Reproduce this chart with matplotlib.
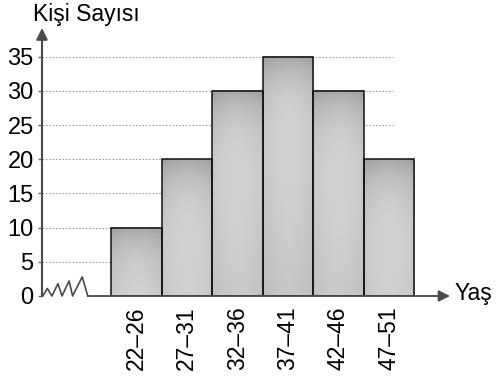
import numpy as np
import matplotlib.pyplot as plt

plt.rcParams['font.family'] = ['Liberation Sans', 'DejaVu Sans']

# Veriler
yas_gruplari = ['22–26', '27–31', '32–36', '37–41', '42–46', '47–51']
kisi_sayisi = [10, 20, 30, 35, 30, 20]
y_ticks = [0, 5, 10, 15, 20, 25, 30, 35]
# eksen kirilma isareti (zigzag), eksen birimlerinde
zig_x = [-1.35, -1.26, -1.17, -1.05, -0.97, -0.83, -0.76, -0.57, -0.46]
zig_y = [0, 1.1, 0, 1.8, 0, 2.2, 0, 2.8, 0]

fig = plt.figure(figsize=(4.97, 3.81), dpi=100)
W, H = 497, 381
ax = fig.add_axes([42 / W, (H - 296) / H, (450 - 42) / W, (296 - 28) / H])
x_min, x_max = (42 - 111) / 50.5, (450 - 111) / 50.5
for s in ax.spines.values():
    s.set_visible(False)

# kesikli yatay cizgiler
grid_end = (393 - 111) / 50.5
for v in y_ticks[1:]:
    ax.plot([x_min, grid_end], [v, v], color='#a0a0a0', lw=0.8,
            ls=(0, (1.5, 1.5)), zorder=1)

# sutunlar: gri gradyan dolgu (ustte koyu, ortada acik)
xx = np.linspace(-1, 1, 40)
yy = np.linspace(0, 1, 80)
X, Y = np.meshgrid(xx, yy)
for i, h in enumerate(kisi_sayisi):
    t = (1 - Y) * h / 35.0  # ustten uzaklik
    grad = 0.66 + 0.2 * (1 - np.exp(-t / 0.12)) - 0.08 * t - 0.04 * X ** 2
    ax.imshow(grad, extent=(i, i + 1, 0, h), origin='lower', cmap='gray',
              vmin=0, vmax=1, aspect='auto', zorder=2, interpolation='bilinear')
ax.bar(np.arange(len(kisi_sayisi)) + 0.5, kisi_sayisi, width=1.0, fill=False,
       edgecolor='#111111', linewidth=1.1, zorder=3)

ax.set_xlim(x_min, x_max)
ax.set_ylim(0, 39.2)

# eksenler
ax.annotate('', xy=(x_min, 39.2), xytext=(x_min, 0),
            arrowprops=dict(arrowstyle='-|>', mutation_scale=17, color='#4a4a4a',
                            lw=1.5, shrinkA=0, shrinkB=0), zorder=4)
ax.plot(zig_x, zig_y, color='#4a4a4a', lw=1.2, zorder=4, clip_on=False)
ax.annotate('', xy=(x_max, 0), xytext=(zig_x[-1], 0),
            arrowprops=dict(arrowstyle='-|>', mutation_scale=17, color='#4a4a4a',
                            lw=1.3, shrinkA=0, shrinkB=0), zorder=4)

ax.set_yticks(y_ticks)
ax.set_yticklabels([str(v) for v in y_ticks], fontsize=17)
ax.tick_params(axis='y', length=3, width=1, color='#666666', pad=3)
ax.set_xticks(np.arange(len(yas_gruplari)) + 0.5)
ax.set_xticklabels(yas_gruplari, rotation=90, fontsize=16.5)
ax.tick_params(axis='x', length=0, pad=7.5)

fig.text(33 / W, 1 - 21 / H, 'Kişi Sayısı', fontsize=16.5, va='baseline', ha='left')
fig.text(455 / W, 1 - 300 / H, 'Yaş', fontsize=16.5, va='baseline', ha='left')

fig.savefig('out.png', dpi=100)
